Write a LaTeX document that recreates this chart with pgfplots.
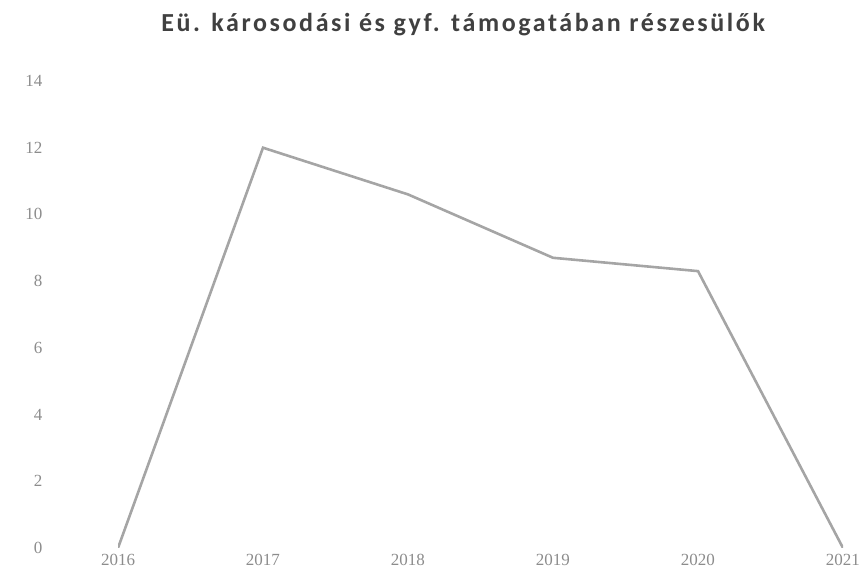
\documentclass[border=0pt]{standalone}
\usepackage{pgfplots}
\pgfplotsset{compat=1.18}
\usepackage{fontspec}
\setmainfont{Liberation Serif}
\newfontfamily\titlefont[LetterSpace=10]{Carlito}
\definecolor{linegray}{HTML}{A5A5A5}
\definecolor{ticklab}{HTML}{8C8C8C}
\definecolor{titlegray}{HTML}{404040}
\begin{document}
\begin{tikzpicture}
\useasboundingbox (0,0) rectangle (866pt,577pt);
\begin{axis}[
  at={(118pt,29pt)}, anchor=south west,
  scale only axis, width=725pt, height=467pt,
  xmin=2016, xmax=2021, ymin=0, ymax=14,
  xtick={2016,...,2021}, ytick={0,2,...,14},
  axis line style={draw=none},
  major tick length=0pt,
  /pgf/number format/assume math mode=true,
  xticklabel={\pgfmathprintnumber[1000 sep={}]{\tick}},
  tick label style={font=\fontsize{17}{20}\selectfont, color=ticklab},
  yticklabel style={xshift=-72pt},
  xticklabel style={yshift=-3pt},
  title={Eü. károsodási és gyf. támogatában részesülők},
  title style={font=\titlefont\bfseries\fontsize{26}{31}\selectfont, color=titlegray, at={(0.476,1)}, anchor=base, yshift=43pt},
]
\addplot[linegray, line width=2.6pt, line join=miter] coordinates {
(2016,0) (2017,12) (2018,10.6) (2019,8.7) (2020,8.3) (2021,0)
};
\end{axis}
\end{tikzpicture}
\end{document}
